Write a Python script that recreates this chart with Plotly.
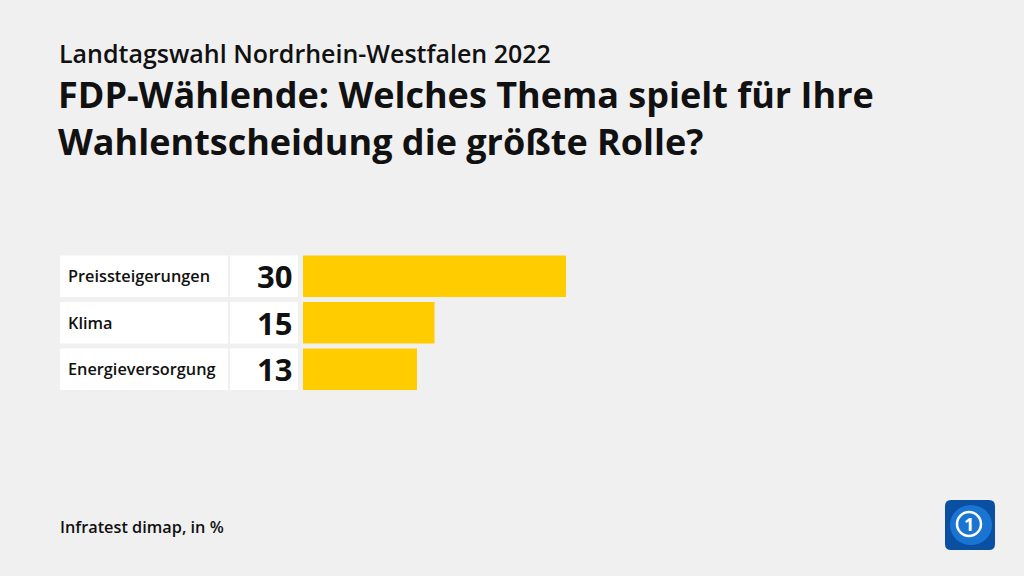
import plotly.graph_objects as go

categories = ["Preissteigerungen", "Klima", "Energieversorgung"]
values = [30, 15, 13]
supertitle = "Landtagswahl Nordrhein-Westfalen 2022"
title = "FDP-Wählende: Welches Thema spielt für Ihre<br>Wahlentscheidung die größte Rolle?"
source = "Infratest dimap, in %"

W, H = 1024, 576
BG = "#f0f0f0"
BAR = "#ffcc00"
TXT = "#111111"
FONT = "Open Sans"

def px(x):
    return x / W

def py(y):
    return 1 - y / H

bar_x0, bar_x30 = 303, 566
top, bottom = 253, 392.5

fig = go.Figure()
fig.add_trace(go.Bar(
    x=values, y=categories, orientation="h",
    marker=dict(color=BAR, line=dict(width=0)),
    width=0.89, hoverinfo="skip",
))

shapes = []
annotations = []
for i, (c, v) in enumerate(zip(categories, values)):
    for x0, x1 in [(60, 228), (230, 298)]:
        shapes.append(dict(type="rect", xref="paper", yref="y",
                           x0=px(x0), x1=px(x1), y0=i - 0.445, y1=i + 0.445,
                           fillcolor="white", line=dict(width=0), layer="below"))
    annotations.append(dict(text=c, xref="paper", yref="y", x=px(66), y=i,
                            xanchor="left", yanchor="middle", showarrow=False,
                            font=dict(family=FONT, size=16.3, color=TXT, weight=600)))
    annotations.append(dict(text=str(v), xref="paper", yref="y", x=px(294), y=i,
                            xanchor="right", yanchor="middle", showarrow=False,
                            font=dict(family=FONT, size=31, color=TXT, weight=700)))

annotations += [
    dict(text=supertitle, xref="paper", yref="paper", x=px(57), y=py(53),
         xanchor="left", yanchor="middle", showarrow=False,
         font=dict(family=FONT, size=25, color=TXT, weight=600)),
    dict(text=title, xref="paper", yref="paper", x=px(56), y=py(118.5),
         xanchor="left", yanchor="middle", showarrow=False, align="left",
         font=dict(family=FONT, size=36, color=TXT, weight=700)),
    dict(text=source, xref="paper", yref="paper", x=px(58), y=py(527),
         xanchor="left", yanchor="middle", showarrow=False,
         font=dict(family=FONT, size=16.3, color=TXT, weight=600)),
    dict(text="1", xref="paper", yref="paper", x=px(969), y=py(524),
         xanchor="center", yanchor="middle", showarrow=False,
         font=dict(family=FONT, size=18, color="white", weight=700)),
]

# logo
shapes += [
    dict(type="path", xref="paper", yref="paper",
         path=("M {a},{b} L {c},{b} Q {d},{b} {d},{e} L {d},{f} Q {d},{g} {c},{g} "
               "L {a},{g} Q {h},{g} {h},{f} L {h},{e} Q {h},{b} {a},{b} Z").format(
             a=px(951), c=px(989), d=px(995), h=px(945),
             b=py(500), e=py(506), f=py(544), g=py(550)),
         fillcolor="#0b4fa3", line=dict(width=0)),
    dict(type="circle", xref="paper", yref="paper",
         x0=px(950), x1=px(992), y0=py(545), y1=py(505),
         fillcolor="#1a75d2", line=dict(width=0)),
    dict(type="circle", xref="paper", yref="paper",
         x0=px(957), x1=px(981), y0=py(536), y1=py(512),
         fillcolor="rgba(0,0,0,0)", line=dict(color="white", width=2.5)),
]

fig.update_layout(
    width=W, height=H,
    margin=dict(l=0, r=0, t=0, b=0),
    paper_bgcolor=BG, plot_bgcolor="rgba(0,0,0,0)",
    showlegend=False,
    xaxis=dict(domain=[px(bar_x0), px(bar_x30)], range=[0, 30],
               visible=False, fixedrange=True),
    yaxis=dict(domain=[py(bottom), py(top)], range=[2.5, -0.5],
               type="category", visible=False, fixedrange=True),
    shapes=shapes, annotations=annotations,
)

fig.write_html("out.html")
